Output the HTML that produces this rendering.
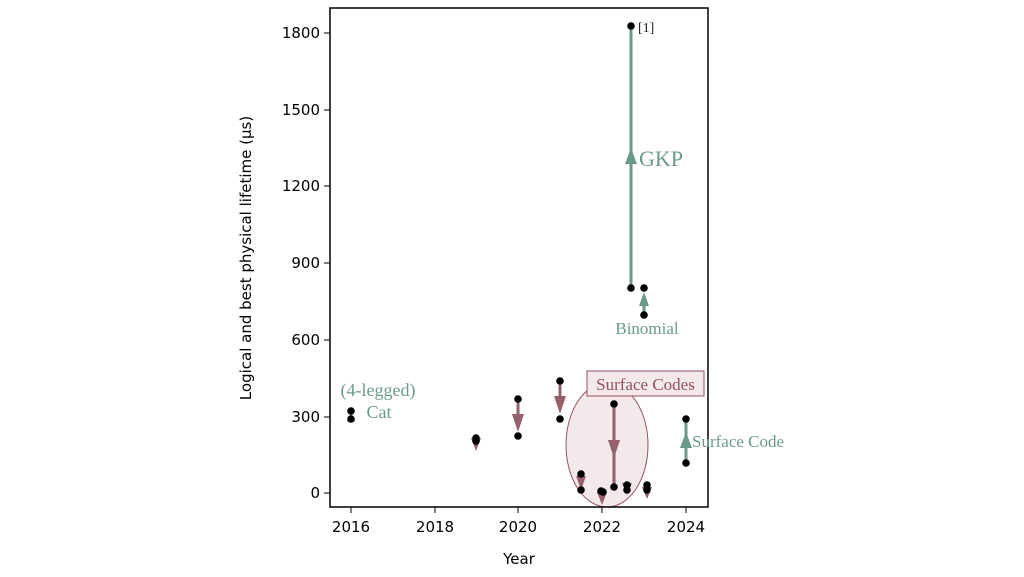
<!DOCTYPE html>
<html><head><meta charset="utf-8"><style>
html,body{margin:0;padding:0;background:#fff;}
svg{display:block;}
.t{font-family:"DejaVu Sans","Liberation Sans",sans-serif;font-size:15px;fill:#000;}
.s{font-family:"Liberation Serif",serif;}
</style></head><body>
<svg width="1024" height="577" viewBox="0 0 1024 577" xmlns="http://www.w3.org/2000/svg">
<ellipse cx="607" cy="445" rx="41" ry="62" fill="#f3e9eb" stroke="#96505f" stroke-width="1"/>
<rect x="330" y="8" width="378" height="499" fill="none" stroke="#000" stroke-width="1.5"/>
<g stroke="#000" stroke-width="1">
<line x1="324" y1="33" x2="330" y2="33"/><line x1="324" y1="110" x2="330" y2="110"/><line x1="324" y1="186" x2="330" y2="186"/><line x1="324" y1="263" x2="330" y2="263"/><line x1="324" y1="340" x2="330" y2="340"/><line x1="324" y1="417" x2="330" y2="417"/><line x1="324" y1="493" x2="330" y2="493"/>
<line x1="351" y1="507" x2="351" y2="513"/><line x1="435" y1="507" x2="435" y2="513"/><line x1="518" y1="507" x2="518" y2="513"/><line x1="602" y1="507" x2="602" y2="513"/><line x1="686" y1="507" x2="686" y2="513"/>
</g>
<g class="t" text-anchor="end">
<text x="320" y="38">1800</text><text x="320" y="115">1500</text><text x="320" y="191">1200</text><text x="320" y="268">900</text><text x="320" y="345">600</text><text x="320" y="422">300</text><text x="320" y="498">0</text>
</g>
<g class="t" text-anchor="middle">
<text x="351" y="532">2016</text><text x="435" y="532">2018</text><text x="518" y="532">2020</text><text x="602" y="532">2022</text><text x="686" y="532">2024</text>
<text x="519" y="564">Year</text>
<text transform="translate(251,258) rotate(-90)">Logical and best physical lifetime (μs)</text>
</g>
<g stroke="#96606c" stroke-width="3" fill="#96606c">
<line x1="518" y1="399" x2="518" y2="420"/><path d="M512,414 L524,414 L518,432 z" stroke="none"/>
<line x1="560" y1="381" x2="560" y2="402"/><path d="M554,396 L566,396 L560,414 z" stroke="none"/>
<line x1="614" y1="404" x2="614" y2="487"/><path d="M608,440 L620,440 L614,458 z" stroke="none"/>
<path d="M576,476 L586,476 L581,490 z" stroke="none"/>
<path d="M471,438 L481,438 L476,451 z" stroke="none"/>
<path d="M597,492 L607,492 L602,505 z" stroke="none"/>
<path d="M622,483 L632,483 L627,495 z" stroke="none"/>
<path d="M642,487 L652,487 L647,499 z" stroke="none"/>
</g>
<g stroke="#6b9a88" stroke-width="3" fill="#6b9a88">
<line x1="631" y1="26" x2="631" y2="288"/><path d="M625,164 L637,164 L631,148 z" stroke="none"/>
<line x1="644" y1="315" x2="644" y2="300"/><path d="M639,306 L649,306 L644,292 z" stroke="none"/>
<line x1="686" y1="419" x2="686" y2="463"/><path d="M680,448 L692,448 L686,432 z" stroke="none"/>
<path d="M347,422 L355,422 L351,412 z" stroke="none"/>
</g>
<g fill="#000">
<circle cx="351" cy="411" r="3.8"/><circle cx="351" cy="419" r="3.8"/>
<circle cx="476" cy="438" r="3.8"/><circle cx="476" cy="441" r="3.8"/>
<circle cx="518" cy="399" r="3.8"/><circle cx="518" cy="436" r="3.8"/>
<circle cx="560" cy="381" r="3.8"/><circle cx="560" cy="419" r="3.8"/>
<circle cx="581" cy="474" r="3.8"/><circle cx="581" cy="490" r="3.8"/>
<circle cx="601" cy="491" r="3.8"/><circle cx="603" cy="492" r="3.8"/>
<circle cx="614" cy="404" r="3.8"/><circle cx="614" cy="487" r="3.8"/>
<circle cx="627" cy="485" r="3.8"/><circle cx="627" cy="490" r="3.8"/>
<circle cx="647" cy="485" r="3.8"/><circle cx="647" cy="490" r="3.8"/>
<circle cx="631" cy="26" r="3.8"/><circle cx="631" cy="288" r="3.8"/>
<circle cx="644" cy="288" r="3.8"/><circle cx="644" cy="315" r="3.8"/>
<circle cx="686" cy="419" r="3.8"/><circle cx="686" cy="463" r="3.8"/>
</g>
<text class="s" x="638" y="32" font-size="14" fill="#222">[1]</text>
<text class="s" x="639" y="166" font-size="22" fill="#6b9a88">GKP</text>
<text class="s" x="647" y="334" font-size="17" text-anchor="middle" fill="#6b9a88">Binomial</text>
<text class="s" x="378" y="396" font-size="18" text-anchor="middle" fill="#6b9a88">(4-legged)</text>
<text class="s" x="379" y="418" font-size="18" text-anchor="middle" fill="#6b9a88">Cat</text>
<text class="s" x="692" y="447" font-size="17" fill="#6b9a88">Surface Code</text>
<rect x="587" y="371" width="117" height="25" fill="#f3e9eb" stroke="#96505f" stroke-width="1"/>
<text class="s" x="645.5" y="390" font-size="17" text-anchor="middle" fill="#96505f">Surface Codes</text>
</svg>
</body></html>
